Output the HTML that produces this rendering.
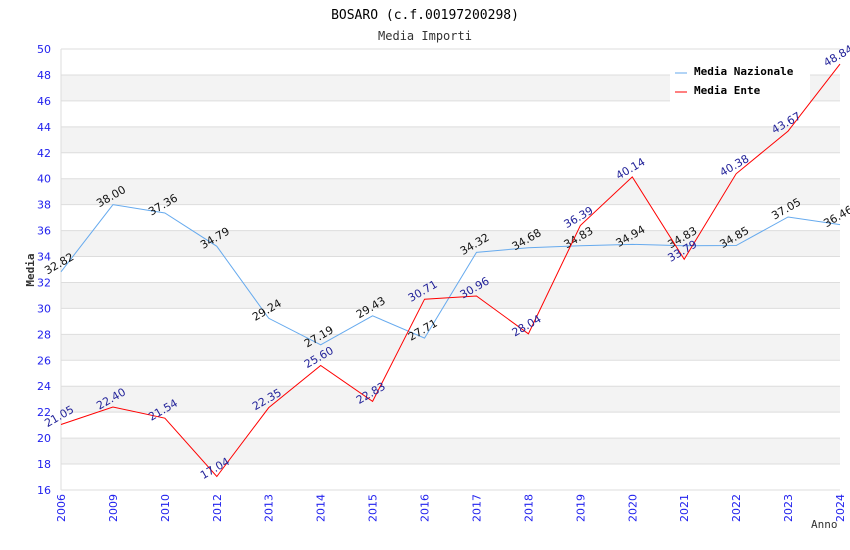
<!DOCTYPE html>
<html><head><meta charset="utf-8"><style>
body{margin:0;background:#fff;}
svg{display:block;font-family:"DejaVu Sans","Liberation Sans",sans-serif;}
</style></head><body>
<svg id="chart" width="850" height="550">
<text x="425" y="19" text-anchor="middle" font-family="DejaVu Sans Mono, Liberation Mono, monospace" font-size="13" fill="#000">BOSARO (c.f.00197200298)</text>
<text x="425" y="40" text-anchor="middle" font-family="DejaVu Sans Mono, Liberation Mono, monospace" font-size="12" fill="#333">Media Importi</text>
<g id="grid"></g><g id="axes"></g><g id="series"></g>
<text x="34" y="270" transform="rotate(-90 34 270)" text-anchor="middle" font-family="DejaVu Sans Mono, monospace" font-size="11" font-weight="bold" fill="#333">Media</text>
<text x="811" y="528" font-family="DejaVu Sans Mono, monospace" font-size="11" fill="#333">Anno</text>
<g>
<rect x="670" y="62" width="140" height="40" fill="#fff"/>
<line x1="675" y1="73" x2="687" y2="73" stroke="#66aaee"/>
<text x="694" y="75" font-family="DejaVu Sans Mono, monospace" font-size="11" font-weight="bold">Media Nazionale</text>
<line x1="675" y1="92" x2="687" y2="92" stroke="#ff0000"/>
<text x="694" y="94" font-family="DejaVu Sans Mono, monospace" font-size="11" font-weight="bold">Media Ente</text>
</g>
</svg>
<script>
const categories=["2006","2009","2010","2012","2013","2014","2015","2016","2017","2018","2019","2020","2021","2022","2023","2024"];
const nazionale=[32.82,38.00,37.36,34.79,29.24,27.19,29.43,27.71,34.32,34.68,34.83,34.94,34.83,34.85,37.05,36.46];
const ente=[21.05,22.40,21.54,17.04,22.35,25.60,22.83,30.71,30.96,28.04,36.39,40.14,33.79,40.38,43.67,48.84];
const yTicks=[16,18,20,22,24,26,28,30,32,34,36,38,40,42,44,46,48,50];
const NS="http://www.w3.org/2000/svg";
const L=61,R=840,T=49,B=490,yMin=16,yMax=50;
const x=i=>L+i*(R-L)/(categories.length-1);
const y=v=>B-(v-yMin)*(B-T)/(yMax-yMin);
function mk(tag,attrs,parent,text){const e=document.createElementNS(NS,tag);for(const k in attrs)e.setAttribute(k,attrs[k]);if(text!==undefined)e.textContent=text;parent.appendChild(e);return e;}
const grid=document.getElementById('grid'),axes=document.getElementById('axes'),ser=document.getElementById('series');
for(let i=0;i<yTicks.length-1;i++){const a=yTicks[i],b=yTicks[i+1];
 if(((a-18)%4+4)%4===0){const r=mk('rect',{x:L,y:y(b),width:R-L,height:y(a)-y(b),fill:'#f3f3f3'},grid);
 
 }}
yTicks.forEach(v=>{const l=mk('line',{x1:L,x2:R,y1:y(v),y2:y(v),stroke:'#dddddd'},grid);
 
 
 const t=mk('text',{x:L-10,y:y(v)+4,'text-anchor':'end','font-size':11,fill:'#2222ee'},axes,String(v));
 
 });
mk('line',{x1:L,x2:L,y1:T,y2:B,stroke:'#dddddd'},axes);
categories.forEach((c,i)=>{const t=mk('text',{x:x(i)+4,y:B+4,'text-anchor':'end','font-size':11,fill:'#2222ee',transform:`rotate(-90 ${x(i)+4} ${B+4})`},axes,c);
 
 });
function draw(data,color,lab,name){
 const p=mk('polyline',{points:data.map((v,i)=>x(i)+','+y(v)).join(' '),fill:'none',stroke:color,'stroke-width':1},ser);
 
 
 data.forEach((v,i)=>{const tx=x(i),ty=y(v)-5;
  const t=mk('text',{x:tx,y:ty,'text-anchor':'middle','font-size':11,fill:lab,transform:`rotate(-30 ${tx} ${ty})`},ser,v.toFixed(2));
  
  });}
draw(nazionale,'#66aaee','#111','nazionale');
draw(ente,'#ff0000','#222299','ente');
</script>
</body></html>
